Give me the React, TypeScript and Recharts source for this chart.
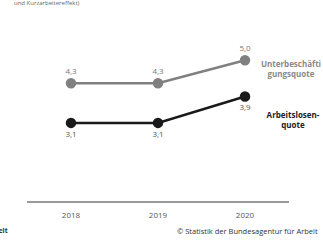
import { LineChart, Line, XAxis, YAxis, LabelList } from 'recharts';

const years = ['2018', '2019', '2020'];
const unterbeschaeftigung = [4.3, 4.3, 5.0];
const arbeitslosen = [3.1, 3.1, 3.9];

const data = years.map((year, i) => ({
  year,
  unter: unterbeschaeftigung[i],
  alq: arbeitslosen[i],
}));

const fmt = (v: any) => Number(v).toFixed(1).replace('.', ',');
const FONT = '"Open Sans", "DejaVu Sans", sans-serif';

export default function App() {
  return (
    <div style={{ position: 'absolute', left: 0, top: 0, width: 323, height: 240, background: '#fff', fontFamily: FONT, overflow: 'hidden' }}>
      <LineChart width={323} height={240} data={data} margin={{ top: 24, right: 34, bottom: 8, left: 27 }}>
        <XAxis
          dataKey="year"
          height={30}
          padding={{ left: 44, right: 44 }}
          axisLine={{ stroke: '#9a9a9a', strokeWidth: 2 }}
          tickLine={false}
          tickMargin={4}
          tick={{ fontSize: 8, fill: '#555', fontFamily: FONT }}
        />
        <YAxis hide domain={[0.7, 6.1]} />
        <Line
          dataKey="unter"
          stroke="#808080"
          strokeWidth={2.5}
          dot={{ r: 4, fill: '#808080', stroke: '#808080' }}
          isAnimationActive={false}
        >
          <LabelList dataKey="unter" position="top" offset={9} formatter={fmt} style={{ fontSize: 8, fill: '#777', fontFamily: FONT }} />
        </Line>
        <Line
          dataKey="alq"
          stroke="#1a1a1a"
          strokeWidth={2.5}
          dot={{ r: 4, fill: '#1a1a1a', stroke: '#1a1a1a' }}
          isAnimationActive={false}
        >
          <LabelList dataKey="alq" position="bottom" offset={8} formatter={fmt} style={{ fontSize: 8, fill: '#555', fontFamily: FONT }} />
        </Line>
      </LineChart>

      <div style={{ position: 'absolute', left: 14, top: 0, fontSize: 6, lineHeight: '7px', color: '#666', whiteSpace: 'nowrap' }}>
        und Kurzarbeitereffekt)
      </div>
      <div style={{ position: 'absolute', left: 258, top: 59, width: 66, textAlign: 'center', fontSize: 8, lineHeight: '10px', fontWeight: 700, color: '#8a8a8a' }}>
        Unterbeschäfti<br />gungsquote
      </div>
      <div style={{ position: 'absolute', left: 260, top: 110, width: 66, textAlign: 'center', fontSize: 8, lineHeight: '10px', fontWeight: 700, color: '#222' }}>
        Arbeitslosen-<br />quote
      </div>
      <div style={{ position: 'absolute', left: -14, top: 226, fontSize: 7, fontWeight: 700, color: '#333', whiteSpace: 'nowrap' }}>
        Arbeit
      </div>
      <div style={{ position: 'absolute', left: 177, top: 226, fontSize: 7.5, color: '#333', whiteSpace: 'nowrap' }}>
        © Statistik der Bundesagentur für Arbeit
      </div>
    </div>
  );
}
